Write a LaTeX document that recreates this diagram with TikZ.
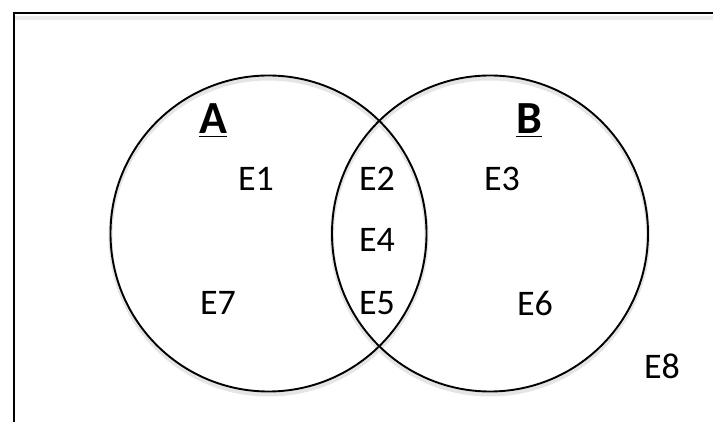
\documentclass[tikz,border=0pt]{standalone}
\usepackage{fontspec}
\setmainfont{Carlito}
\usetikzlibrary{positioning}

\begin{document}
\begin{tikzpicture}[
    x=0.5pt, y=-0.5pt,
    setcircle/.style={
        circle,
        draw=black,
        line width=0.95pt,
        minimum size=158pt,
        inner sep=0pt
    },
    setshade/.style={
        circle,
        draw=black!10,
        line width=2pt,
        minimum size=158pt,
        inner sep=0pt
    },
    setname/.style={
        font=\fontsize{23}{23}\selectfont\bfseries,
        anchor=base
    },
    elem/.style={
        font=\fontsize{18}{18}\selectfont,
        inner sep=0pt
    }
]

\clip (0,0) rectangle (713,422);
\fill[white] (0,0) rectangle (713,422);

% universal set, running off the page on the right and bottom
\fill[black!8] (15,16) rectangle (760,460);
\fill[white] (15,20) rectangle (760,460);
\draw[line width=1.3pt] (14,13) rectangle (760,460);

% soft shadow under the two sets
\node[setshade] at (268.5,236.5) {};
\node[setshade] at (490,236.5) {};

\node[setcircle] (setA) at (268.5,233.5) {};
\node[setcircle] (setB) at (490,233.5) {};

\node[setname] (nameA) at (213,134) {\underline{A}};
\node[setname] (nameB) at (529,134) {\underline{B}};

\node[elem] (e1) at (256,179) {E1};
\node[elem] (e2) at (377,179) {E2};
\node[elem] (e3) at (502,179) {E3};
\node[elem] (e4) at (377,240) {E4};
\node[elem] (e7) at (218,303) {E7};
\node[elem] (e5) at (377,303) {E5};
\node[elem] (e6) at (535,303) {E6};
\node[elem] (e8) at (662,366) {E8};

\end{tikzpicture}
\end{document}
